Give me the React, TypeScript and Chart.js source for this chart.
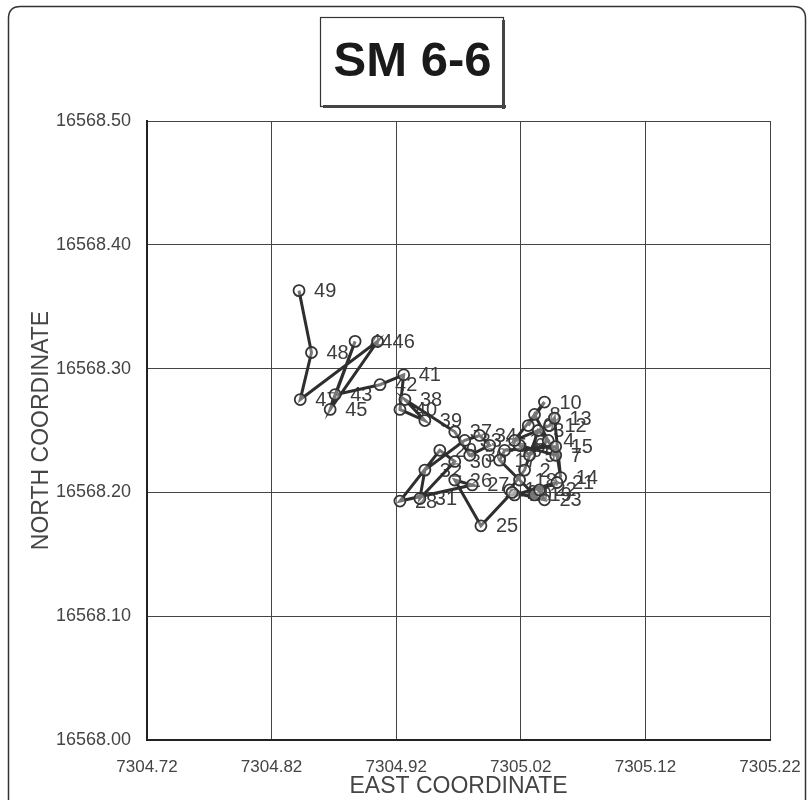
import React, { useEffect, useRef } from "react";
import { Chart, registerables } from "chart.js";

Chart.register(...registerables);

const TITLE = "SM 6-6";
const X_TITLE = "EAST COORDINATE";
const Y_TITLE = "NORTH COORDINATE";

const X_TICKS = [7304.72, 7304.82, 7304.92, 7305.02, 7305.12, 7305.22];
const Y_TICKS = [16568.0, 16568.1, 16568.2, 16568.3, 16568.4, 16568.5];

const POINT_LABELS = Array.from({ length: 49 }, (_, i) => String(i + 1));

const EAST = [
  7305.011, 7305.023, 7305.034, 7305.042, 7305.027, 7305.019, 7305.048, 7305.031, 7305.026, 7305.039,
  7305.015, 7305.043, 7305.047, 7305.052, 7305.048, 7305.007, 7305.003, 7305.019, 7305.031, 7305.015,
  7305.049, 7305.035, 7305.039, 7305.013, 7304.988, 7304.967, 7304.981, 7304.923, 7304.955, 7304.967,
  7304.939, 7304.943, 7304.975, 7304.987, 7304.995, 7304.979, 7304.967, 7304.927, 7304.943, 7304.923,
  7304.926, 7304.907, 7304.871, 7304.887, 7304.867, 7304.905, 7304.843, 7304.852, 7304.842,
];

const NORTH = [
  16568.202, 16568.218, 16568.25, 16568.242, 16568.23, 16568.238, 16568.23, 16568.263, 16568.254, 16568.273,
  16568.242, 16568.254, 16568.26, 16568.212, 16568.237, 16568.234, 16568.226, 16568.21, 16568.198, 16568.198,
  16568.208, 16568.202, 16568.194, 16568.2, 16568.173, 16568.21, 16568.206, 16568.193, 16568.234, 16568.225,
  16568.195, 16568.218, 16568.242, 16568.246, 16568.238, 16568.23, 16568.249, 16568.275, 16568.258, 16568.267,
  16568.295, 16568.287, 16568.279, 16568.322, 16568.267, 16568.322, 16568.275, 16568.313, 16568.363,
];

const FONT = "'Liberation Sans', Arial, sans-serif";

const framePlugin = {
  id: "frameAndTitle",
  beforeDraw(chart: any) {
    const ctx = chart.ctx;
    ctx.save();
    ctx.fillStyle = "#ffffff";
    ctx.fillRect(0, 0, chart.width, chart.height);
    ctx.strokeStyle = "#333";
    ctx.lineWidth = 1.5;
    ctx.beginPath();
    const x0 = 8.5, y0 = 6.5, x1 = 805.5, y1 = 830, r = 12;
    ctx.moveTo(x0, y1);
    ctx.lineTo(x0, y0 + r);
    ctx.quadraticCurveTo(x0, y0, x0 + r, y0);
    ctx.lineTo(x1 - r, y0);
    ctx.quadraticCurveTo(x1, y0, x1, y0 + r);
    ctx.lineTo(x1, y1);
    ctx.stroke();
    ctx.restore();
  },
  afterDraw(chart: any) {
    const ctx = chart.ctx;
    ctx.save();
    const bx = 320, by = 17, bw = 183, bh = 89;
    ctx.fillStyle = "#ffffff";
    ctx.fillRect(bx, by, bw, bh);
    ctx.strokeStyle = "#333";
    ctx.lineWidth = 1.2;
    ctx.strokeRect(bx + 0.5, by + 0.5, bw, bh);
    ctx.fillStyle = "#444";
    ctx.fillRect(bx + 3, by + bh - 1, bw, 3);
    ctx.fillRect(bx + bw - 1, by + 3, 3, bh);
    ctx.fillStyle = "#1a1a1a";
    ctx.font = `bold 49px ${FONT}`;
    ctx.textAlign = "center";
    ctx.textBaseline = "middle";
    ctx.fillText(TITLE, bx + bw / 2 + 1, by + bh / 2 + 1);
    ctx.restore();
  },
};

const labelPlugin = {
  id: "pointLabels",
  beforeDatasetsDraw(chart: any) {
    const ctx = chart.ctx;
    const meta = chart.getDatasetMeta(0);
    ctx.save();
    ctx.font = `20px ${FONT}`;
    ctx.fillStyle = "#3c3c3c";
    ctx.textAlign = "left";
    ctx.textBaseline = "middle";
    meta.data.forEach((el: any, i: number) => {
      ctx.fillText(POINT_LABELS[i], el.x + 15, el.y + 1);
    });
    ctx.restore();
  },
};

export default function App() {
  const ref = useRef<HTMLCanvasElement | null>(null);

  useEffect(() => {
    if (!ref.current) return;
    const data = EAST.map((x, i) => ({ x, y: NORTH[i] }));
    const chart = new Chart(ref.current, {
      type: "scatter",
      data: {
        datasets: [
          {
            data,
            showLine: true,
            borderColor: "#2e2e2e",
            borderWidth: 3,
            pointRadius: 5.5,
            pointBorderWidth: 1.8,
            pointBorderColor: "#333",
            pointBackgroundColor: "rgba(255,255,255,0.35)",
          } as any,
        ],
      },
      options: {
        animation: false,
        responsive: false,
        devicePixelRatio: 1,
        layout: { padding: { top: 121, right: 39, left: 0, bottom: 0 } },
        plugins: {
          legend: { display: false },
          tooltip: { enabled: false },
          title: { display: false },
        },
        scales: {
          x: {
            type: "linear",
            min: 7304.72,
            max: 7305.22,
            afterBuildTicks: (scale: any) => {
              scale.ticks = X_TICKS.map((v) => ({ value: v }));
            },
            afterFit: (scale: any) => {
              scale.height = 60;
              scale.paddingLeft = 0;
              scale.paddingRight = 0;
            },
            ticks: {
              callback: (v: any) => Number(v).toFixed(2),
              color: "#444",
              font: { family: FONT, size: 17 },
              padding: 17,
              maxRotation: 0,
            },
            grid: { color: "#444", lineWidth: 1, drawTicks: false },
            border: { color: "#222", width: 2 },
            title: {
              display: true,
              text: X_TITLE,
              color: "#444",
              font: { family: FONT, size: 23 },
              padding: { top: 0, bottom: 0 },
            },
          },
          y: {
            type: "linear",
            min: 16568.0,
            max: 16568.5,
            afterBuildTicks: (scale: any) => {
              scale.ticks = Y_TICKS.map((v) => ({ value: v }));
            },
            afterFit: (scale: any) => {
              scale.width = 147;
              scale.paddingTop = 0;
              scale.paddingBottom = 0;
            },
            ticks: {
              callback: (v: any) => Number(v).toFixed(2),
              color: "#444",
              font: { family: FONT, size: 18 },
              padding: 16,
            },
            grid: { color: "#444", lineWidth: 1, drawTicks: false },
            border: { color: "#222", width: 2 },
            title: {
              display: true,
              text: Y_TITLE,
              color: "#444",
              font: { family: FONT, size: 23 },
              padding: { top: 28, bottom: 0 },
            },
          },
        },
      },
      plugins: [framePlugin, labelPlugin],
    });
    return () => chart.destroy();
  }, []);

  return (
    <div style={{ position: "absolute", left: 0, top: 0, width: 809, height: 800 }}>
      <canvas ref={ref} width={809} height={800} />
    </div>
  );
}
